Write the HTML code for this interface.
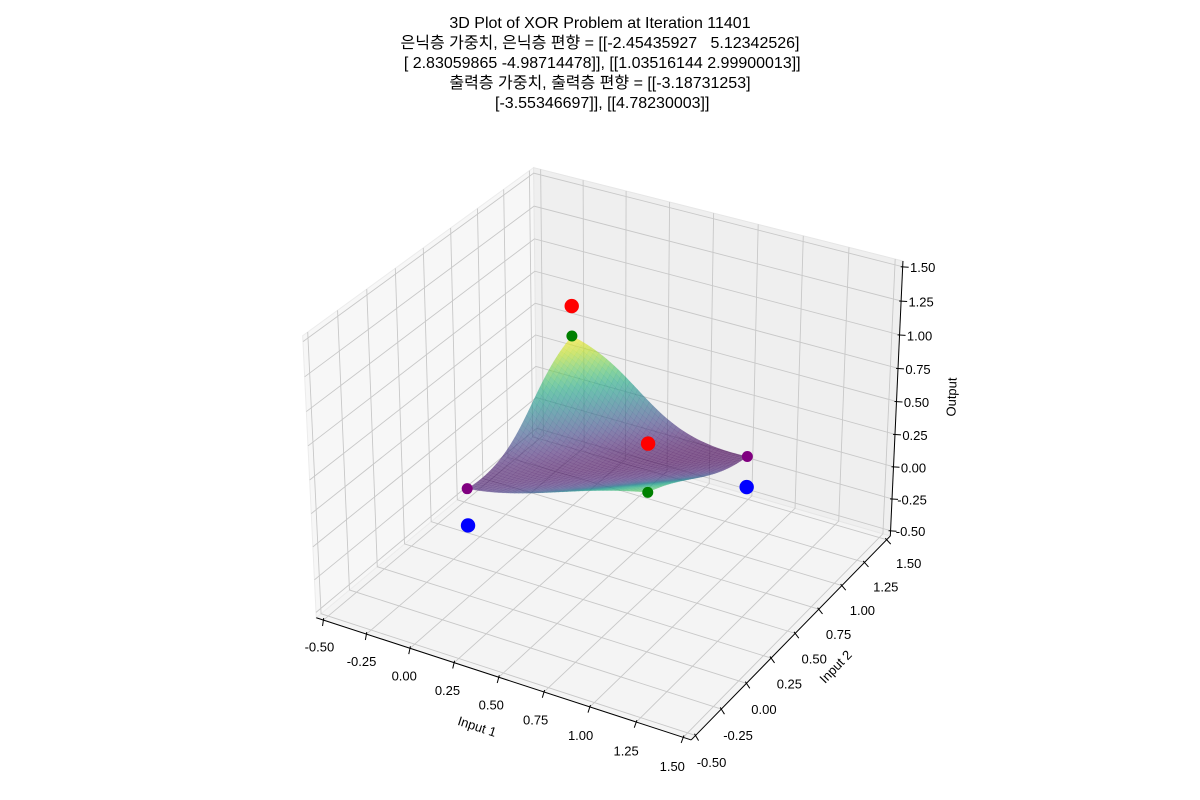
<!DOCTYPE html>
<html><head><meta charset="utf-8"><style>
html,body{margin:0;padding:0;background:#fff;}
svg{display:block;font-family:"Liberation Sans","Noto Sans CJK KR",sans-serif;}
</style></head><body>
<svg id="chart" width="1200" height="800" viewBox="0 0 1200 800">
<g font-size="16" text-anchor="middle" fill="#000">
<text x="600" y="28">3D Plot of XOR Problem at Iteration 11401</text>
<text x="600" y="48" xml:space="preserve">은닉층 가중치, 은닉층 편향 = [[-2.45435927   5.12342526]</text>
<text x="600" y="68" xml:space="preserve"> [ 2.83059865 -4.98714478]], [[1.03516144 2.99900013]]</text>
<text x="600" y="88">출력층 가중치, 출력층 편향 = [[-3.18731253]</text>
<text x="600" y="108" xml:space="preserve"> [-3.55346697]], [[4.78230003]]</text>
</g>
<g id="panes"></g>
<g id="grid"></g>
<g id="axes"></g>
<g id="surface"></g>
<g id="points"></g>
<text x="477" y="731" font-size="13" text-anchor="middle" transform="rotate(18 477 727)">Input 1</text>
<text x="836" y="671" font-size="13" text-anchor="middle" transform="rotate(-46 836 667)">Input 2</text>
<text x="952" y="401" font-size="13" text-anchor="middle" transform="rotate(-88 952 397)">Output</text>
</svg>
<script>
// ---- data ----
const ticks = [-0.5,-0.25,0,0.25,0.5,0.75,1,1.25,1.5];
const tickLabels = ["-0.50","-0.25","0.00","0.25","0.50","0.75","1.00","1.25","1.50"];
const W1row1 = [-2.45435927, 5.12342526];
const W1row2 = [2.83059865, -4.98714478];
const b1 = [1.03516144, 2.99900013];
const W2 = [-3.18731253, -3.55346697];
const b2 = [4.78230003];
const inX1 = [0, 0, 1, 1];
const inX2 = [0, 1, 0, 1];
const targets = [0, 1, 1, 0];
const preds = [0.278, 0.774, 0.648, 0.234];
const predColors = ["purple","green","green","purple"];

const NS = "http://www.w3.org/2000/svg";
const lo = -0.5, hi = 1.5, pad = (hi-lo)/48;
const pl = lo-pad, ph = hi+pad;
const AX=[1.1429,1.1429,0.8571], R=[0.5714,0.5714,0.4286];
const u=[0.8660,0.5,0], v=[-0.25,0.4330,0.8660], w=[0.4330,-0.75,0.5];
function raw(x,y,z){
  const d=[(x-lo)/(hi-lo)*AX[0]-R[0],(y-lo)/(hi-lo)*AX[1]-R[1],(z-lo)/(hi-lo)*AX[2]-R[2]];
  const dot=a=>a[0]*d[0]+a[1]*d[1]+a[2]*d[2];
  const den=10-dot(w);
  return [dot(u)/den, -dot(v)/den, dot(w)];
}
// fit screen mapping from observed pane corners
const anchors=[[pl,pl,pl,317,620],[ph,pl,pl,691,742],[ph,ph,pl,891,531],[pl,pl,ph,303,333],[pl,ph,ph,532,170],[ph,ph,ph,903,262]];
function fit(idx,col){let n=anchors.length,sx=0,sy=0,sxx=0,sxy=0;
  anchors.forEach(a=>{const r=raw(a[0],a[1],a[2])[idx];sx+=r;sy+=a[col];sxx+=r*r;sxy+=r*a[col];});
  const s=(n*sxy-sx*sy)/(n*sxx-sx*sx);return [s,(sy-s*sx)/n];}
const FX=fit(0,3), FY=fit(1,4);
function P(x,y,z){const r=raw(x,y,z);return [FX[0]*r[0]+FX[1],FY[0]*r[1]+FY[1],r[2]];}
function mk(tag,attrs,parent){const e=document.createElementNS(NS,tag);for(const k in attrs)e.setAttribute(k,attrs[k]);parent.appendChild(e);return e;}
function poly(pts){return pts.map(p=>p[0].toFixed(2)+","+p[1].toFixed(2)).join(" ");}

// panes
const gp=document.getElementById("panes");
let e;
e=mk("polygon",{points:poly([P(pl,pl,pl),P(ph,pl,pl),P(ph,ph,pl),P(pl,ph,pl)]),fill:"#f4f4f4",stroke:"#ececec"},gp);


e=mk("polygon",{points:poly([P(pl,pl,pl),P(pl,ph,pl),P(pl,ph,ph),P(pl,pl,ph)]),fill:"#f7f7f7",stroke:"#ececec"},gp);


e=mk("polygon",{points:poly([P(pl,ph,pl),P(ph,ph,pl),P(ph,ph,ph),P(pl,ph,ph)]),fill:"#efefef",stroke:"#e6e6e6"},gp);



// grid
const gg=document.getElementById("grid");
ticks.forEach(t=>{
  e=mk("polyline",{points:poly([P(t,pl,pl),P(t,ph,pl),P(t,ph,ph)]),fill:"none",stroke:"#c8c8c8","stroke-width":0.9},gg);
  
  
  e=mk("polyline",{points:poly([P(ph,t,pl),P(pl,t,pl),P(pl,t,ph)]),fill:"none",stroke:"#c8c8c8","stroke-width":0.9},gg);
  
  
  e=mk("polyline",{points:poly([P(pl,pl,t),P(pl,ph,t),P(ph,ph,t)]),fill:"none",stroke:"#c8c8c8","stroke-width":0.9},gg);
  
  
});

// axes lines, ticks, labels
const ga=document.getElementById("axes");
function line(a,b,name){const l=mk("line",{x1:a[0],y1:a[1],x2:b[0],y2:b[1],stroke:"#000","stroke-width":1},ga);
  
  }
line(P(pl,pl,pl),P(ph,pl,pl),"x-axis-line");
line(P(ph,pl,pl),P(ph,ph,pl),"y-axis-line");
line(P(ph,ph,pl),P(ph,ph,ph),"z-axis-line");
function lab(x,y,s,name){const t=mk("text",{x:x,y:y+4.5,"font-size":13,"text-anchor":"middle",fill:"#000"},ga);t.textContent=s;
  
  }
ticks.forEach((t,i)=>{
  const f=(t-lo)/(hi-lo);
  // x axis
  let p=P(t,pl,pl), ox=-4-7*f, oy=27+2*f, L=Math.hypot(ox,oy);
  line([p[0]-ox/L*2,p[1]-oy/L*2],[p[0]+ox/L*6,p[1]+oy/L*6],"x-tick");
  lab(p[0]+ox,p[1]+oy,tickLabels[i],"x-tick-label");
  // y axis
  p=P(ph,t,pl); ox=16+6*f; oy=27-3*f; L=Math.hypot(ox,oy);
  line([p[0]-ox/L*2,p[1]-oy/L*2],[p[0]+ox/L*6,p[1]+oy/L*6],"y-tick");
  lab(p[0]+ox,p[1]+oy,tickLabels[i],"y-tick-label");
  // z axis
  p=P(ph,ph,t);
  line([p[0]-2,p[1]],[p[0]+6,p[1]+0.5],"z-tick");
  lab(p[0]+20,p[1]+1,tickLabels[i],"z-tick-label");
});

// surface
const sig=a=>1/(1+Math.exp(-a));
function net(x1,x2){const h1=sig(x1*W1row1[0]+x2*W1row2[0]+b1[0]);const h2=sig(x1*W1row1[1]+x2*W1row2[1]+b1[1]);return sig(h1*W2[0]+h2*W2[1]+b2[0]);}
const VS=["#440154","#482475","#414487","#355f8d","#2a788e","#21918c","#22a884","#44bf70","#7ad151","#bddf26","#fde725"];
function vir(t){t=Math.max(0,Math.min(1,t))*10;const i=Math.min(9,Math.floor(t)),f=t-i;
  const a=VS[i],b=VS[i+1];const c=k=>Math.round(parseInt(a.substr(k,2),16)*(1-f)+parseInt(b.substr(k,2),16)*f);
  return "rgb("+c(1)+","+c(3)+","+c(5)+")";}
const N=45, Z=[];
let zmin=1e9,zmax=-1e9;
for(let i=0;i<=N;i++){Z.push([]);for(let j=0;j<=N;j++){const z=net(i/N,j/N);Z[i].push(z);zmin=Math.min(zmin,z);zmax=Math.max(zmax,z);}}
const quads=[];
for(let i=0;i<N;i++)for(let j=0;j<N;j++){
  const c=[[i,j],[i+1,j],[i+1,j+1],[i,j+1]].map(q=>P(q[0]/N,q[1]/N,Z[q[0]][q[1]]));
  const zav=(Z[i][j]+Z[i+1][j]+Z[i+1][j+1]+Z[i][j+1])/4;
  quads.push({c,zav,d:(c[0][2]+c[1][2]+c[2][2]+c[3][2])/4});
}
quads.sort((a,b)=>a.d-b.d);
const gs=document.getElementById("surface");
quads.forEach(q=>{const col=vir((q.zav-zmin)/(zmax-zmin));
  e=mk("polygon",{points:poly(q.c),fill:col,stroke:col,"stroke-width":0.3,"fill-opacity":0.62,"stroke-opacity":0.3},gs);
  
  
});

// scatter
const gpt=document.getElementById("points");
targets.forEach((t,i)=>{const p=P(inX1[i],inX2[i],t);
  e=mk("circle",{cx:p[0],cy:p[1],r:7.2,fill:t>0.5?"#ff0000":"#0000ff"},gpt);
  
  
});
preds.forEach((z,i)=>{const p=P(inX1[i],inX2[i],z);
  e=mk("circle",{cx:p[0],cy:p[1],r:5.5,fill:predColors[i]},gpt);
  
  
});
</script>
</body></html>
